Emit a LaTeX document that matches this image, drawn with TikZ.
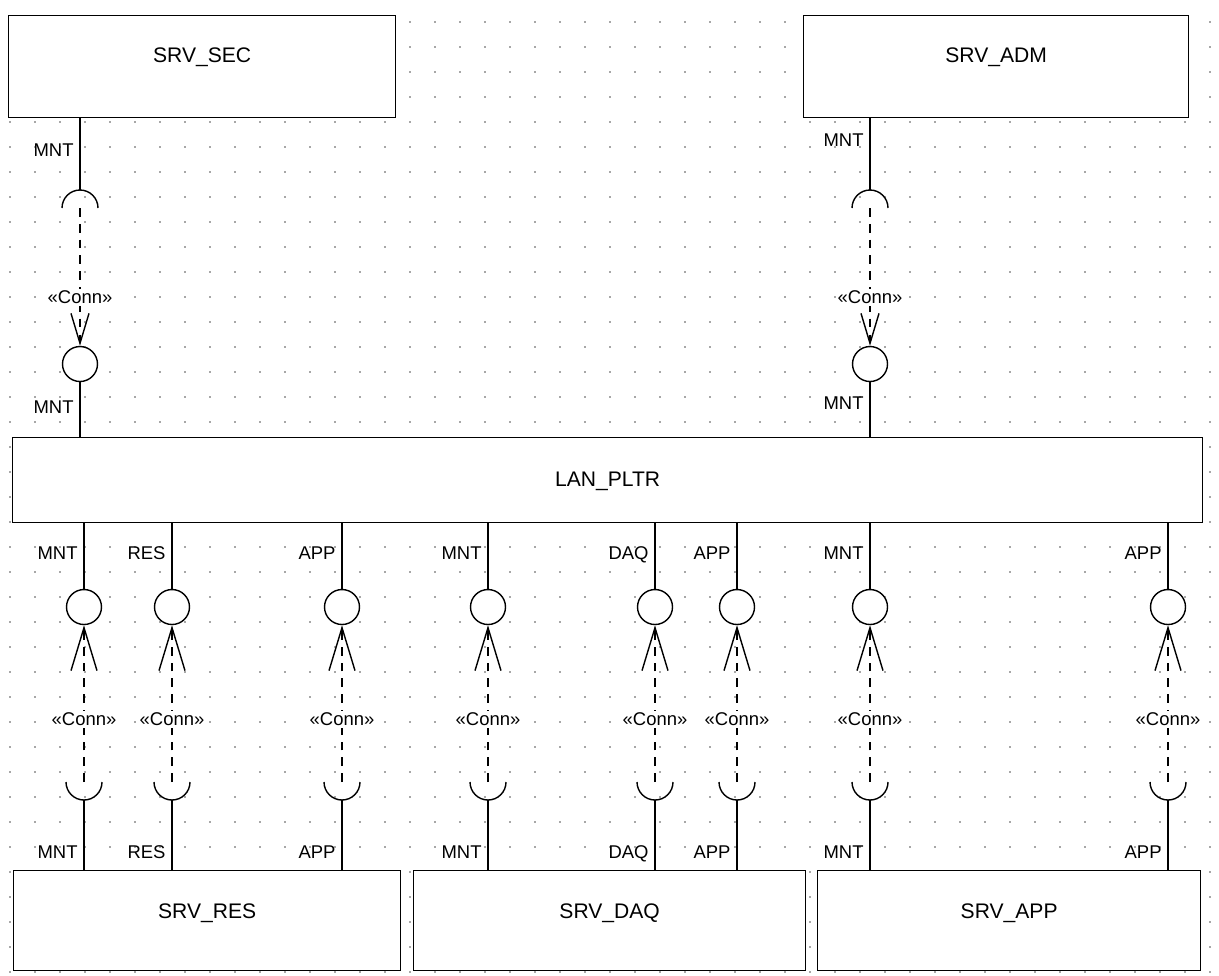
\documentclass[tikz,border=0pt]{standalone}
\usepackage{fontspec}
\setmainfont{Liberation Sans}
\usetikzlibrary{arrows.meta,calc}

\begin{document}
\begin{tikzpicture}[
    x=0.02cm, y=0.02cm,
    line width=0.8pt,
    comp/.style={draw, fill=white, inner sep=0pt, anchor=north west,
                 font=\fontsize{12}{14}\selectfont},
    ball/.style={draw, circle, fill=white, inner sep=0pt, minimum size=0.7cm},
    port/.style={font=\fontsize{10.5}{12}\selectfont, inner sep=1pt, anchor=base east},
    conn/.style={dash pattern=on 5pt off 4pt},
    connup/.style={conn, -{Straight Barb[length=0.86cm, width=0.52cm]}},
    conndown/.style={conn, -{Straight Barb[length=0.6cm, width=0.36cm]}},
    connlbl/.style={font=\fontsize{10.5}{12}\selectfont, fill=white, inner sep=1pt},
    griddot/.style={fill=black!70},
  ]
  \useasboundingbox (0,0) rectangle (1219,-975);

  % === Dot grid ===
  \foreach \gx in {0,...,48}
    \foreach \gy in {0,...,38}
      \fill[griddot] (10+25*\gx,-22-25*\gy) circle (0.5pt);

  % === Components ===
  \node[comp, minimum width=7.74cm, text height=0.94cm, text depth=1.1cm]
    (sec) at (8,-15) {SRV\_SEC};
  \node[comp, minimum width=7.7cm, text height=0.94cm, text depth=1.1cm]
    (adm) at (803,-15) {SRV\_ADM};
  \node[comp, minimum width=23.8cm, text height=0.98cm, text depth=0.72cm]
    (lan) at (12,-437) {LAN\_PLTR};
  \node[comp, minimum width=7.74cm, text height=0.96cm, text depth=1.04cm]
    (res) at (13,-870) {SRV\_RES};
  \node[comp, minimum width=7.84cm, text height=0.96cm, text depth=1.04cm]
    (daq) at (413,-870) {SRV\_DAQ};
  \node[comp, minimum width=7.66cm, text height=0.96cm, text depth=1.04cm]
    (app) at (817,-870) {SRV\_APP};

  % === SRV_SEC -> LAN_PLTR ===
  \coordinate (ssec) at (80,-208);
  \node[ball] (bsec) at (80,-364) {};
  \draw (sec.south -| ssec) -- ([yshift=0.36cm]ssec);
  \draw ([xshift=-0.36cm]ssec) arc[start angle=180, end angle=0, radius=18];
  \draw[conndown] (ssec) -- node[connlbl, pos=0.65] (csec) {«Conn»} (bsec.north);
  \draw (bsec.south) -- (lan.north -| bsec);
  \node[port] (psec1) at (76,-156) {MNT};
  \node[port] (psec2) at (76,-413) {MNT};

  % === SRV_ADM -> LAN_PLTR ===
  \coordinate (sadm) at (870,-208);
  \node[ball] (badm) at (870,-364) {};
  \draw (adm.south -| sadm) -- ([yshift=0.36cm]sadm);
  \draw ([xshift=-0.36cm]sadm) arc[start angle=180, end angle=0, radius=18];
  \draw[conndown] (sadm) -- node[connlbl, pos=0.65] (cadm) {«Conn»} (badm.north);
  \draw (badm.south) -- (lan.north -| badm);
  \node[port] (padm1) at (866,-146) {MNT};
  \node[port] (padm2) at (866,-409) {MNT};

  % === LAN_PLTR -> servers below ===
  \foreach \x/\lbl/\srv [count=\i] in {84/MNT/res, 172/RES/res, 342/APP/res,
      488/MNT/daq, 655/DAQ/daq, 737/APP/daq, 870/MNT/app, 1168/APP/app}{
    \node[ball] (b\i) at (\x,-607) {};
    \coordinate (s\i) at (\x,-782);
    \draw (lan.south -| b\i) -- (b\i.north);
    \draw[connup] (s\i) -- node[connlbl, pos=0.4] (c\i) {«Conn»} (b\i.south);
    \draw ([xshift=-0.36cm]s\i) arc[start angle=180, end angle=360, radius=18];
    \draw ([yshift=-0.36cm]s\i) -- (\srv.north -| s\i);
    \node[port] (pu\i) at (\x-4,-559) {\lbl};
    \node[port] (pd\i) at (\x-4,-858) {\lbl};
  }

\end{tikzpicture}
\end{document}
